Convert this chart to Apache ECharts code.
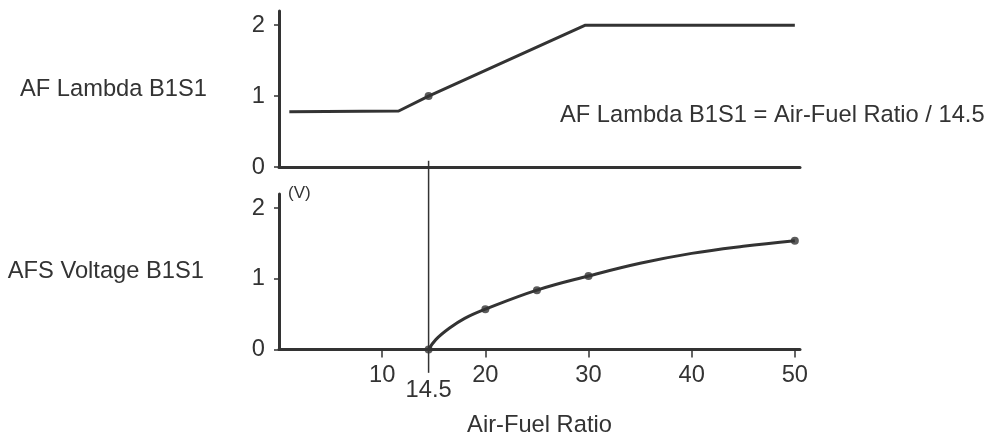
<!DOCTYPE html>
<html>
<head>
<meta charset="utf-8">
<script src="https://cdn.jsdelivr.net/npm/echarts@6/dist/echarts.min.js"></script>
<style>html,body{margin:0;padding:0;background:#fff}#c{width:997px;height:439px}</style>
</head>
<body>
<div id="c"></div>
<script>
// ---- data ----
var lambdaLine = [[1, 0.78], [11.6, 0.79], [14.5, 1.0], [29.7, 2.0], [50, 2.0]];
var lambdaDots = [[14.5, 1.0]];
var voltageCurve = [[14.5, 0], [15.2, 0.14], [16.5, 0.3], [18, 0.44], [20, 0.57], [25, 0.84], [30, 1.04], [35, 1.22], [40, 1.36], [45, 1.46], [50, 1.54]];
var voltageDots = [[14.5, 0], [20, 0.57], [25, 0.84], [30, 1.04], [50, 1.54]];
var refLine = [[14.5, -0.33], [14.5, 2.67]];
var xTickValues = [10, 20, 30, 40, 50];
var xSpecialTick = [14.5];
var yTickValues = [0, 1, 2];
var topLabel = 'AF Lambda B1S1';
var bottomLabel = 'AFS Voltage B1S1';
var unitLabel = '(V)';
var xName = 'Air-Fuel Ratio';
var formulaText = 'AF Lambda B1S1 = Air-Fuel Ratio / 14.5';

var C = '#333333';
var FONT = 'Liberation Sans, Arial, sans-serif';
var FS = 23.7;

var chart = echarts.init(document.getElementById('c'), null, {renderer: 'canvas'});

function yAxis(gridIndex, name, gap) {
  return {
    type: 'value', gridIndex: gridIndex, min: 0, max: 2.2,
    axisLine: {show: true, lineStyle: {color: C, width: 3}},
    axisTick: {show: true, inside: false, length: 5, lineStyle: {color: C, width: 1.5}, customValues: yTickValues},
    axisLabel: {color: C, fontSize: FS, fontFamily: FONT, margin: 14, padding: [0, 0, 7, 0], customValues: yTickValues},
    splitLine: {show: false},
    name: name, nameLocation: 'middle', nameRotate: 0, nameGap: gap,
    nameTextStyle: {color: C, fontSize: FS, fontFamily: FONT, align: 'right', verticalAlign: 'middle'}
  };
}

var option = {
  animation: false,
  backgroundColor: '#fff',
  textStyle: {fontFamily: FONT},
  grid: [
    {left: 279, width: 521, top: 11, height: 156, containLabel: false},
    {left: 279, width: 521, top: 194, height: 155.5, containLabel: false}
  ],
  graphic: [
    {type: 'text', left: 560, top: 103, silent: true,
     style: {text: formulaText, fill: C, fontSize: FS, fontFamily: FONT}}
  ],
  xAxis: [
    {type: 'value', gridIndex: 0, min: 0, max: 50.5,
     axisLine: {show: true, onZero: false, lineStyle: {color: C, width: 3}},
     axisTick: {show: false}, axisLabel: {show: false}, splitLine: {show: false}},
    {type: 'value', gridIndex: 1, min: 0, max: 50.5, position: 'bottom',
     axisLine: {show: true, onZero: false, lineStyle: {color: C, width: 3}},
     axisTick: {show: true, length: 8, lineStyle: {color: C, width: 1.5}, customValues: xTickValues},
     axisLabel: {color: C, fontSize: FS, fontFamily: FONT, margin: 14, customValues: xTickValues},
     splitLine: {show: false},
     name: xName, nameLocation: 'middle', nameGap: 64,
     nameTextStyle: {color: C, fontSize: FS, fontFamily: FONT}},
    {type: 'value', gridIndex: 1, min: 0, max: 50.5, position: 'bottom', offset: 0,
     axisLine: {show: false, onZero: false},
     axisTick: {show: false},
     axisLabel: {color: C, fontSize: FS, fontFamily: FONT, margin: 29, customValues: xSpecialTick},
     splitLine: {show: false}}
  ],
  yAxis: [
    yAxis(0, topLabel, 72),
    yAxis(1, bottomLabel, 75),
    {type: 'value', gridIndex: 1, min: 0, max: 2.2, position: 'left',
     axisLine: {show: false}, axisTick: {show: false}, axisLabel: {show: false}, splitLine: {show: false},
     name: unitLabel, nameLocation: 'end', nameGap: 1,
     nameTextStyle: {color: C, fontSize: 17, fontFamily: FONT, align: 'left', verticalAlign: 'middle', padding: [0, 0, 0, 9]}}
  ],
  series: [
    {type: 'line', xAxisIndex: 0, yAxisIndex: 0, data: lambdaLine, showSymbol: false, symbol: 'none',
     lineStyle: {color: C, width: 3}, silent: true},
    {type: 'scatter', xAxisIndex: 0, yAxisIndex: 0, data: lambdaDots, symbolSize: 8, itemStyle: {color: C}},
    {type: 'line', xAxisIndex: 1, yAxisIndex: 1, data: voltageCurve, showSymbol: false, symbol: 'none',
     smooth: 0.4, lineStyle: {color: C, width: 3}},
    {type: 'scatter', xAxisIndex: 1, yAxisIndex: 1, data: voltageDots, symbolSize: 8, itemStyle: {color: C}},
    {type: 'line', xAxisIndex: 1, yAxisIndex: 1, data: refLine, showSymbol: false, symbol: 'none',
     clip: false, lineStyle: {color: C, width: 1.5}, z: 1}
  ]
};
chart.setOption(option);
</script>
</body>
</html>
